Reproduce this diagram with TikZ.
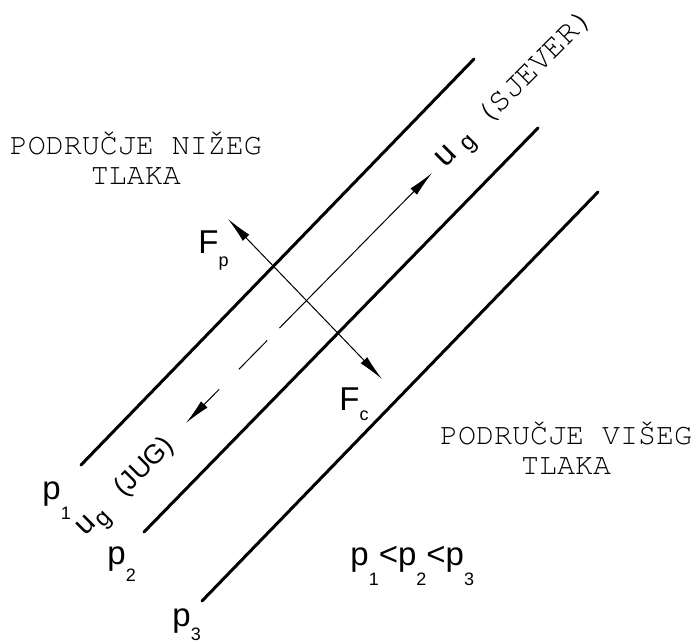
\documentclass[tikz,border=0pt]{standalone}
\usepackage{fontspec}
\setmainfont{Liberation Sans}
\newfontfamily\typew{texgyrecursor-regular.otf}
\usetikzlibrary{arrows.meta,calc}

\newcommand{\lowsub}[3][9]{\raisebox{-#2pt}{\fontsize{#1}{#1}\selectfont #3}}

\begin{document}
\begin{tikzpicture}[
    x=0.5pt, y=-0.5pt,
    isobar/.style={black, line width=1.5pt, line cap=round},
    thinline/.style={black, line width=0.5pt},
    force/.style={thinline, {Latex[length=13pt, width=4.5pt]}-{Latex[length=13pt, width=4.5pt]}},
    windarrow/.style={thinline, -{Latex[length=13pt, width=4.5pt]}},
    region/.style={font=\typew\fontsize{15}{15}\selectfont, align=center, inner sep=0pt},
    lab/.style={font=\fontsize{16.5}{18}\selectfont, inner sep=0pt, anchor=base west}
]

% Picture frame
\useasboundingbox (0,0) rectangle (691,643);

% ============================================================
% Isobars
% ============================================================
\foreach \i/\xa/\ya/\xb/\yb in {1/81/465/474/59, 2/144/532/538/128, 3/202/601/598/192} {
    \coordinate (lo\i) at (\xa,\ya);
    \coordinate (hi\i) at (\xb,\yb);
    \draw[isobar] (lo\i) -- (hi\i);
}

% Pressure labels
\node[lab] (p1) at (42,499) {p\lowsub{10}{1}};
\node[lab] (p2) at (107,564) {p\lowsub{8.5}{2}};
\node[lab] (p3) at (172,626) {p\lowsub{7}{3}};
\node[lab] (order) at (350,565) {p\lowsub{10}{1}<p\lowsub{10}{2}<p\lowsub{10}{3}};

% ============================================================
% Forces
% ============================================================
\coordinate (Ptip) at (228,219);
\coordinate (Ctip) at (382,379);
\draw[force] (Ptip) -- (Ctip);
\node[lab] (Fp) at (198,253) {F\lowsub{6.5}{p}};
\node[lab] (Fc) at (339,410) {F\lowsub{5}{c}};

% ============================================================
% Geostrophic wind
% ============================================================
\coordinate (S) at (186,423);
\coordinate (N) at (432,173);
\draw[windarrow] ($(S)!0.38!(N)$) -- (N);
\draw[thinline] ($(S)!0.215!(N)$) -- ($(S)!0.33!(N)$);
\draw[windarrow] ($(S)!0.135!(N)$) -- (S);

\node[lab, rotate=45] (ugN) at (445,169)
    {u\hspace{5pt}\lowsub[12]{2.5}{g}\hspace{8pt}{\typew\fontsize{16}{16}\selectfont(SJEVER)}};
\node[lab, rotate=45, font=\fontsize{15}{16}\selectfont] (ugS) at (85,537)
    {u\hspace{1pt}\lowsub[12]{3.5}{g}\hspace{11.5pt}{\fontsize{13.5}{14}\selectfont(JUG)}};

% Regions
\node[region] (low) at (136,158) {PODRUČJE NIŽEG\\TLAKA};
\node[region] (high) at (566,448) {PODRUČJE VIŠEG\\TLAKA};
\end{tikzpicture}
\end{document}
